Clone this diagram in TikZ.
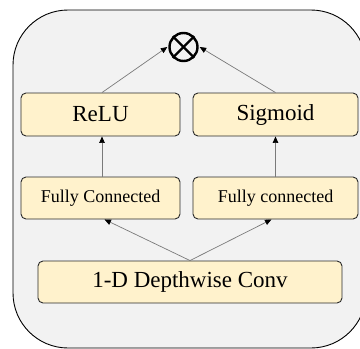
\documentclass[tikz,border=0pt]{standalone}
\usepackage{fontspec}
\setmainfont{Liberation Serif}
\usetikzlibrary{arrows.meta}

\definecolor{panelbg}{HTML}{F2F2F2}
\definecolor{blockfill}{HTML}{FFF2CC}
\definecolor{blockedge}{HTML}{2A2A2A}
\definecolor{wire}{HTML}{7A7A7A}

\tikzset{
  block/.style={draw=blockedge, fill=blockfill, line width=0.9pt,
    rounded corners=5pt, inner sep=0pt, anchor=center},
  bigtext/.style={font=\fontsize{23}{26}\selectfont},
  smalltext/.style={font=\fontsize{18}{21}\selectfont},
  flow/.style={draw=wire, line width=0.7pt,
    -{Triangle[length=6.5pt,width=5.5pt,color=black]}},
  mult/.style={circle, draw=black, line width=2.4pt, minimum size=28pt,
    inner sep=0pt}
}

\begin{document}
\begin{tikzpicture}[x=1pt, y=-1pt]
  \useasboundingbox (0,0) rectangle (360,349);
  \begin{scope}
    \clip (0,0) rectangle (360,349);
    % rounded panel behind the module
    \draw[fill=panelbg, draw=black, line width=0.9pt, rounded corners=55pt]
      (13,10) rectangle (366,348);
  \end{scope}

  % element-wise product
  \node[mult] (prod) at (183.5,47) {};
  \draw[line width=2.4pt] (prod.north west) -- (prod.south east);
  \draw[line width=2.4pt] (prod.south west) -- (prod.north east);

  % activation branches
  \node[block, bigtext, minimum width=159pt, minimum height=43pt] (relu) at (100.5,114.5) {ReLU};
  \node[block, bigtext, minimum width=165pt, minimum height=43pt] (sig) at (275.5,114.5) {Sigmoid};

  % fully connected layers
  \node[block, smalltext, minimum width=159pt, minimum height=42pt] (fcl) at (100.5,198) {Fully Connected};
  \node[block, smalltext, minimum width=165pt, minimum height=42pt] (fcr) at (275.5,198) {Fully connected};

  % depthwise convolution
  \node[block, bigtext, minimum width=304pt, minimum height=42pt] (dw) at (190,282) {1-D Depthwise Conv};

  % connections
  \draw[flow] (dw.north) -- ([xshift=4pt]fcl.south);
  \draw[flow] (dw.north) -- ([xshift=-4pt]fcr.south);
  \draw[flow] ([xshift=1.5pt]fcl.north) -- ([xshift=1.5pt]relu.south);
  \draw[flow] (fcr.north) -- (sig.south);
  \draw[flow] ([xshift=1.5pt]relu.north) -- ([xshift=-1pt]prod.west);
  \draw[flow] (sig.north) -- ([xshift=1pt]prod.east);
\end{tikzpicture}
\end{document}
